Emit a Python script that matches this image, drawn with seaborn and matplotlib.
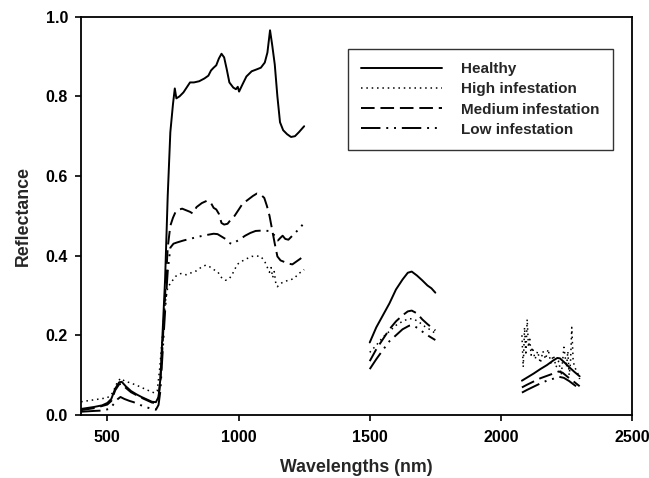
import numpy as np
import pandas as pd
import seaborn as sns
import matplotlib
matplotlib.use("Agg")
import matplotlib.pyplot as plt
from matplotlib.lines import Line2D

series_names = ["Healthy", "High infestation", "Medium infestation", "Low infestation"]
legend_labels = ["Healthy", "High infestation", "Medium\u2009infestation", "Low infestation"]

# ---- Healthy ----
healthy_wl_1 = [400, 450, 480, 500, 515, 530, 545, 555, 570, 590, 610, 630, 650, 670, 685, 695, 702, 710, 720, 730,
                740, 750, 757, 763, 775, 790, 805, 815, 830, 850, 870, 885, 895, 905, 915, 925, 935, 945, 955, 965,
                980, 990, 997, 1002, 1015, 1030, 1050, 1070, 1085, 1100, 1110, 1120, 1128, 1138, 1148, 1158, 1170,
                1185, 1200, 1215, 1230, 1250]
healthy_rf_1 = [0.015, 0.020, 0.024, 0.030, 0.040, 0.066, 0.082, 0.083, 0.072, 0.060, 0.052, 0.045, 0.039, 0.033, 0.032,
                0.045, 0.09, 0.20, 0.34, 0.55, 0.71, 0.78, 0.82, 0.795, 0.80, 0.81, 0.825, 0.835, 0.835, 0.838, 0.845,
                0.852, 0.865, 0.872, 0.878, 0.895, 0.907, 0.898, 0.868, 0.835, 0.822, 0.818, 0.824, 0.812, 0.83, 0.85,
                0.863, 0.868, 0.872, 0.885, 0.91, 0.966, 0.93, 0.88, 0.80, 0.735, 0.715, 0.705, 0.698, 0.70, 0.71, 0.725]
healthy_wl_2 = [1500, 1525, 1550, 1575, 1600, 1625, 1645, 1660, 1680, 1700, 1720, 1735, 1750]
healthy_rf_2 = [0.182, 0.22, 0.25, 0.28, 0.315, 0.34, 0.357, 0.36, 0.35, 0.338, 0.325, 0.318, 0.307]
healthy_wl_3 = [2080, 2100, 2125, 2150, 2175, 2200, 2215, 2225, 2240, 2260, 2280, 2300]
healthy_rf_3 = [0.086, 0.094, 0.104, 0.115, 0.125, 0.137, 0.143, 0.142, 0.133, 0.12, 0.108, 0.097]

# ---- High infestation ----
high_wl_1 = [400, 450, 500, 520, 540, 552, 565, 590, 620, 650, 680, 690, 700, 710, 720, 730, 740, 760, 780, 800,
             820, 840, 860, 875, 890, 905, 920, 935, 950, 965, 980, 995, 1010, 1030, 1050, 1070, 1085, 1100, 1110,
             1118, 1124, 1130, 1136, 1142, 1148, 1160, 1175, 1190, 1210, 1230, 1250]
high_rf_1 = [0.033, 0.038, 0.043, 0.055, 0.085, 0.092, 0.085, 0.080, 0.072, 0.063, 0.055, 0.06, 0.12, 0.20, 0.28,
             0.32, 0.33, 0.348, 0.355, 0.352, 0.357, 0.362, 0.372, 0.376, 0.372, 0.365, 0.36, 0.345, 0.338, 0.342,
             0.358, 0.378, 0.385, 0.392, 0.398, 0.399, 0.398, 0.385, 0.37, 0.358, 0.37, 0.345, 0.36, 0.33, 0.322,
             0.33, 0.335, 0.338, 0.342, 0.355, 0.365]
high_wl_2 = [1500, 1525, 1550, 1575, 1600, 1625, 1650, 1670, 1690, 1710, 1730, 1750]
high_rf_2 = [0.157, 0.175, 0.195, 0.21, 0.225, 0.235, 0.242, 0.24, 0.232, 0.222, 0.214, 0.205]
high_wl_3 = [2080, 2085, 2090, 2095, 2100, 2105, 2110, 2115, 2120, 2130, 2140, 2150, 2160, 2170, 2180, 2190, 2200,
             2210, 2220, 2230, 2240, 2250, 2255, 2260, 2265, 2270, 2275, 2280, 2290, 2300]
high_rf_3 = [0.20, 0.12, 0.22, 0.15, 0.24, 0.17, 0.19, 0.15, 0.17, 0.14, 0.16, 0.13, 0.16, 0.14, 0.165, 0.13, 0.15,
             0.12, 0.135, 0.10, 0.17, 0.12, 0.16, 0.10, 0.13, 0.22, 0.14, 0.12, 0.11, 0.09]

# ---- Medium infestation ----
medium_wl_1 = [400, 450, 500, 515, 530, 545, 555, 570, 590, 610, 630, 650, 670, 685, 695, 702, 710, 720, 730, 740,
               750, 760, 770, 785, 800, 815, 825, 840, 860, 880, 895, 905, 915, 925, 935, 945, 958, 970, 985, 1000,
               1015, 1035, 1055, 1070, 1085, 1098, 1108, 1118, 1128, 1138, 1148, 1160, 1175, 1190, 1205, 1220, 1235, 1250]
medium_rf_1 = [0.012, 0.017, 0.026, 0.035, 0.062, 0.077, 0.078, 0.068, 0.057, 0.050, 0.043, 0.037, 0.031, 0.030,
               0.042, 0.085, 0.17, 0.30, 0.42, 0.475, 0.495, 0.51, 0.515, 0.518, 0.514, 0.51, 0.506, 0.522, 0.532,
               0.538, 0.532, 0.52, 0.516, 0.505, 0.482, 0.478, 0.48, 0.49, 0.50, 0.515, 0.53, 0.54, 0.55, 0.556,
               0.553, 0.545, 0.525, 0.50, 0.465, 0.43, 0.398, 0.388, 0.384, 0.38, 0.378, 0.385, 0.392, 0.40]
medium_wl_2 = [1500, 1525, 1550, 1575, 1600, 1625, 1645, 1660, 1680, 1700, 1720, 1750]
medium_rf_2 = [0.135, 0.165, 0.19, 0.215, 0.235, 0.25, 0.26, 0.262, 0.255, 0.24, 0.228, 0.212]
medium_wl_3 = [2080, 2100, 2125, 2150, 2175, 2200, 2220, 2235, 2255, 2275, 2300]
medium_rf_3 = [0.069, 0.076, 0.084, 0.092, 0.098, 0.104, 0.109, 0.106, 0.095, 0.085, 0.072]

# ---- Low infestation ----
low_wl_1 = [400, 450, 485, 510, 525, 540, 550, 565, 585, 600, 625, 650, 670, 685, 695, 702, 710, 720, 730, 740, 752,
            765, 790, 820, 850, 880, 905, 920, 935, 950, 965, 975, 990, 1005, 1025, 1045, 1065, 1090, 1115, 1128,
            1140, 1150, 1160, 1168, 1178, 1190, 1205, 1220, 1235, 1250]
low_rf_1 = [0.008, 0.010, 0.011, 0.016, 0.028, 0.040, 0.045, 0.040, 0.035, 0.032, 0.025, 0.019, 0.015, 0.013, 0.025,
            0.06, 0.15, 0.26, 0.36, 0.42, 0.43, 0.433, 0.438, 0.443, 0.448, 0.452, 0.455, 0.454, 0.448, 0.442, 0.432,
            0.429, 0.435, 0.441, 0.45, 0.457, 0.462, 0.463, 0.462, 0.455, 0.45, 0.438, 0.445, 0.45, 0.442, 0.44,
            0.45, 0.46, 0.47, 0.483]
low_wl_2 = [1500, 1525, 1550, 1575, 1600, 1625, 1650, 1665, 1685, 1705, 1725, 1750]
low_rf_2 = [0.115, 0.14, 0.163, 0.185, 0.2, 0.215, 0.224, 0.225, 0.217, 0.207, 0.198, 0.188]
low_wl_3 = [2080, 2100, 2125, 2150, 2175, 2200, 2220, 2240, 2260, 2280, 2300]
low_rf_3 = [0.056, 0.063, 0.071, 0.079, 0.086, 0.091, 0.096, 0.093, 0.085, 0.075, 0.066]

segments = {
    "Healthy": [(healthy_wl_1, healthy_rf_1), (healthy_wl_2, healthy_rf_2), (healthy_wl_3, healthy_rf_3)],
    "High infestation": [(high_wl_1, high_rf_1), (high_wl_2, high_rf_2), (high_wl_3, high_rf_3)],
    "Medium infestation": [(medium_wl_1, medium_rf_1), (medium_wl_2, medium_rf_2), (medium_wl_3, medium_rf_3)],
    "Low infestation": [(low_wl_1, low_rf_1), (low_wl_2, low_rf_2), (low_wl_3, low_rf_3)],
}

rows = []
for name, segs in segments.items():
    for k, (wl, rf) in enumerate(segs):
        for w, r in zip(wl, rf):
            rows.append({"series": name, "seg": k, "wl": w, "rf": r})
df = pd.DataFrame(rows)

styles = {
    "Healthy": dict(linestyle="-", linewidth=1.4),
    "High infestation": dict(linestyle=(0, (1, 2.5)), linewidth=1.1),
    "Medium infestation": dict(linestyle=(0, (7, 3)), linewidth=1.4),
    "Low infestation": dict(linestyle=(0, (10, 3, 1, 3, 1, 3)), linewidth=1.4),
}

sns.set_style("ticks")
plt.rcParams["font.family"] = ["Liberation Sans", "DejaVu Sans"]
plt.rcParams["font.weight"] = "bold"

fig = plt.figure(figsize=(6.49, 4.78), dpi=100)
ax = fig.add_axes([0.125, 0.132, 0.849, 0.833])

for name in series_names:
    sub = df[df["series"] == name]
    sns.lineplot(data=sub, x="wl", y="rf", units="seg", estimator=None, sort=False,
                 color="black", ax=ax, **styles[name])

ax.set_xlim(400, 2500)
ax.set_ylim(0, 1.0)
ax.set_xticks([500, 1000, 1500, 2000, 2500])
ax.set_yticks([0.0, 0.2, 0.4, 0.6, 0.8, 1.0])
ax.set_yticklabels(["0.0", "0.2", "0.4", "0.6", "0.8", "1.0"])
ax.tick_params(axis="both", direction="out", length=4.5, width=1.2, labelsize=11.5, colors="black")
ax.tick_params(axis="x", pad=6.5)
ax.tick_params(axis="y", pad=5)
for lab in ax.get_xticklabels() + ax.get_yticklabels():
    lab.set_fontweight("bold")
for sp in ax.spines.values():
    sp.set_visible(True)
    sp.set_linewidth(1.3)
    sp.set_color("black")

ax.set_xlabel("Wavelengths (nm)", fontsize=12.8, fontweight="bold", labelpad=10)
ax.set_ylabel("Reflectance", fontsize=12.8, fontweight="bold", labelpad=10)

handles = [Line2D([], [], color="black", **styles[n]) for n in series_names]
leg = ax.legend(handles, legend_labels, loc="upper left", bbox_to_anchor=(0.4837, 0.918),
                frameon=True, fancybox=False, handlelength=5.3, handletextpad=1.3,
                labelspacing=0.40, borderpad=0.85, borderaxespad=0.0,
                prop={"weight": "bold", "size": 11})
leg.get_frame().set_edgecolor("black")
leg.get_frame().set_linewidth(1.0)

fig.savefig("out.png", dpi=100)
